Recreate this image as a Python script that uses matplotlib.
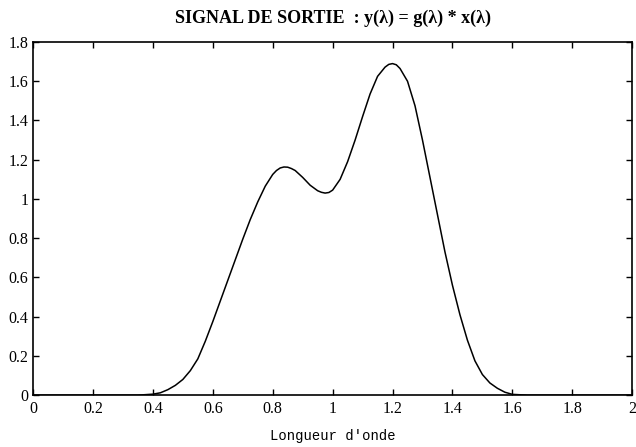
import matplotlib.pyplot as plt

# signal values
wavelength = [0.0, 0.35, 0.40, 0.425, 0.45, 0.475, 0.50, 0.525, 0.55, 0.575,
              0.60, 0.625, 0.65, 0.675, 0.70, 0.725, 0.75, 0.775, 0.80, 0.8125,
              0.825, 0.8375, 0.85, 0.8625, 0.875, 0.90, 0.925, 0.95, 0.9625,
              0.975, 0.9875, 1.00, 1.025, 1.05, 1.075, 1.10, 1.125, 1.15,
              1.175, 1.1875, 1.20, 1.2125, 1.225, 1.25, 1.275, 1.30, 1.325,
              1.35, 1.375, 1.40, 1.425, 1.45, 1.475, 1.50, 1.525, 1.55, 1.575,
              1.60, 1.65, 2.0]
signal = [0.0, 0.0, 0.005, 0.012, 0.028, 0.05, 0.08, 0.125, 0.185, 0.275,
          0.375, 0.48, 0.585, 0.69, 0.795, 0.895, 0.985, 1.065, 1.125, 1.145,
          1.158, 1.163, 1.162, 1.155, 1.145, 1.11, 1.07, 1.042, 1.034,
          1.03, 1.033, 1.045, 1.10, 1.19, 1.30, 1.42, 1.535, 1.625,
          1.672, 1.686, 1.69, 1.684, 1.665, 1.60, 1.475, 1.30, 1.11,
          0.92, 0.73, 0.56, 0.41, 0.28, 0.175, 0.105, 0.062, 0.035, 0.015,
          0.004, 0.0, 0.0]

xticks = [0, 0.2, 0.4, 0.6, 0.8, 1, 1.2, 1.4, 1.6, 1.8, 2]
xtick_labels = ['0', '0.2', '0.4', '0.6', '0.8', '1', '1.2', '1.4', '1.6', '1.8', '2']
yticks = [0, 0.2, 0.4, 0.6, 0.8, 1, 1.2, 1.4, 1.6, 1.8]
ytick_labels = ['0', '0.2', '0.4', '0.6', '0.8', '1', '1.2', '1.4', '1.6', '1.8']

fig = plt.figure(figsize=(6.36, 4.47), dpi=100)
ax = fig.add_axes([0.052, 0.116, 0.942, 0.790])

ax.plot(wavelength, signal, color='black', linewidth=1.1,
        solid_joinstyle='round')

ax.set_xlim(0, 2)
ax.set_ylim(0, 1.8)
ax.set_xticks(xticks)
ax.set_xticklabels(xtick_labels, family='Liberation Serif', fontsize=11.5)
ax.set_yticks(yticks)
ax.set_yticklabels(ytick_labels, family='Liberation Serif', fontsize=11.5)
ax.tick_params(axis='x', pad=4)
ax.tick_params(direction='in', length=4, width=1, top=True, right=True)
for s in ax.spines.values():
    s.set_linewidth(1.2)

ax.set_title("SIGNAL DE SORTIE  : y(\u03bb) = g(\u03bb) * x(\u03bb)",
             family='Liberation Serif', fontsize=13, fontweight='bold', pad=14)
ax.set_xlabel("Longueur d'onde", family='Liberation Mono', fontsize=10, labelpad=9)

fig.savefig('out.png', dpi=100)
